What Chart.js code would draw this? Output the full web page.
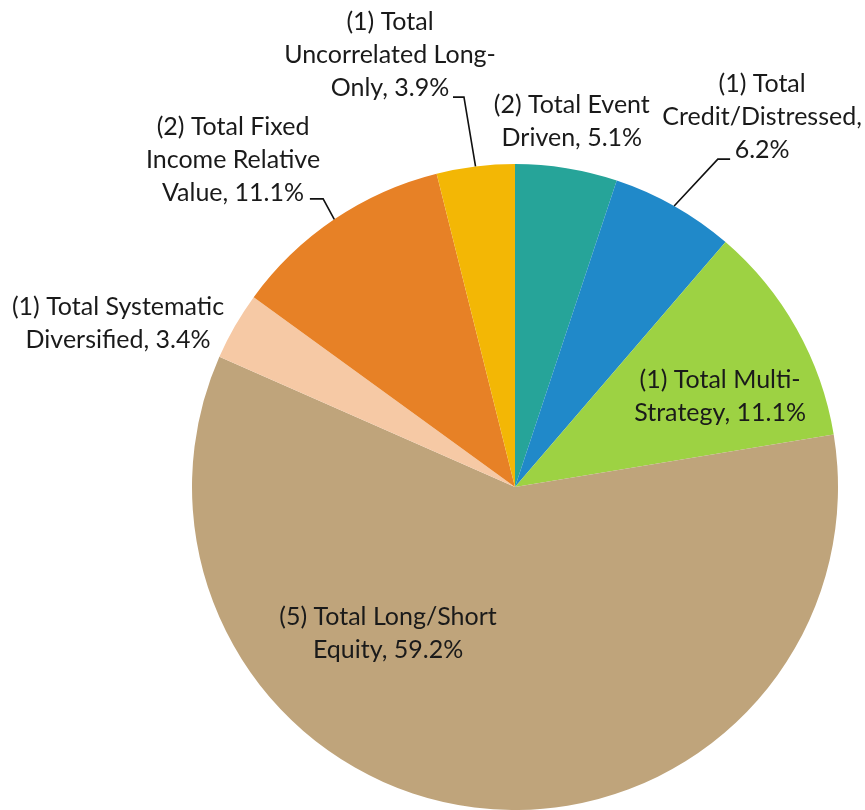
<!DOCTYPE html>
<html>
<head>
<meta charset="utf-8">
<script src="https://cdn.jsdelivr.net/npm/chart.js@4/dist/chart.umd.min.js"></script>
<style>
  html, body { margin: 0; padding: 0; background: #fff; }
  #wrap { width: 865px; height: 810px; position: relative; }
</style>
</head>
<body>
<div id="wrap"><canvas id="pieChart"></canvas></div>
<script>
// allocation by strategy, clockwise from 12 o'clock
var categories = [
  ['(2) Total Event', 'Driven'],
  ['(1) Total', 'Credit/Distressed,'],
  ['(1) Total Multi-', 'Strategy'],
  ['(5) Total Long/Short', 'Equity'],
  ['(1) Total Systematic', 'Diversified'],
  ['(2) Total Fixed', 'Income Relative', 'Value'],
  ['(1) Total', 'Uncorrelated Long-', 'Only']
];
var weights = [5.1, 6.2, 11.1, 59.2, 3.4, 11.1, 3.9];
var colors = ['#26a499', '#2089c9', '#9dd243', '#bfa47b', '#f6c9a5', '#e78126', '#f3b705'];

// label placement, in pie radii from the centre
// text: centre of the text block; leader: [elbow, end] or null
var labelLayout = [
  { text: [0.176, -1.132], leader: null },
  { text: [0.765, -1.146], leader: [[0.628, -1.015], [0.666, -1.015]], split: true },
  { text: [0.635, -0.279], leader: null },
  { text: [-0.393, 0.454], leader: null },
  { text: [-1.229, -0.506], leader: null },
  { text: [-0.873, -1.012], leader: [[-0.594, -0.892], [-0.635, -0.892]] },
  { text: [-0.387, -1.337], leader: [[-0.158, -1.207], [-0.192, -1.207]] }
];

function labelLines(i) {
  var lines = categories[i].slice();
  var pct = weights[i].toFixed(1) + '%';
  if (labelLayout[i].split) {
    lines.push(pct);
  } else {
    lines[lines.length - 1] += ', ' + pct;
  }
  return lines;
}

var pieLabels = {
  id: 'pieLabels',
  afterDatasetsDraw: function(chart) {
    var ctx = chart.ctx;
    var meta = chart.getDatasetMeta(0);
    ctx.save();
    ctx.font = '25px Lato, "Noto Sans", sans-serif';
    ctx.fillStyle = '#1a1a1a';
    ctx.strokeStyle = '#111';
    ctx.lineWidth = 1.6;
    ctx.textAlign = 'center';
    ctx.textBaseline = 'middle';
    meta.data.forEach(function(arc, i) {
      var R = arc.outerRadius, cx = arc.x, cy = arc.y;
      var lay = labelLayout[i];
      var lines = labelLines(i);
      var lh = 33;
      var tx = cx + lay.text[0] * R;
      var ty = cy + lay.text[1] * R - (lines.length - 1) * lh / 2;
      lines.forEach(function(s, k) { ctx.fillText(s, tx, ty + k * lh); });
      if (lay.leader) {
        var mid = (arc.startAngle + arc.endAngle) / 2;
        ctx.beginPath();
        ctx.moveTo(cx + R * Math.cos(mid), cy + R * Math.sin(mid));
        ctx.lineTo(cx + lay.leader[0][0] * R, cy + lay.leader[0][1] * R);
        ctx.lineTo(cx + lay.leader[1][0] * R, cy + lay.leader[1][1] * R);
        ctx.stroke();
      }
    });
    ctx.restore();
  }
};

new Chart(document.getElementById('pieChart'), {
  type: 'pie',
  data: {
    labels: categories.map(function(c) { return c.join(' '); }),
    datasets: [{
      data: weights,
      backgroundColor: colors,
      borderWidth: 0
    }]
  },
  options: {
    responsive: true,
    maintainAspectRatio: false,
    animation: false,
    layout: { padding: { top: 164, bottom: 0, left: 192, right: 27 } },
    plugins: {
      legend: { display: false },
      tooltip: { enabled: false }
    }
  },
  plugins: [pieLabels]
});
</script>
</body>
</html>
